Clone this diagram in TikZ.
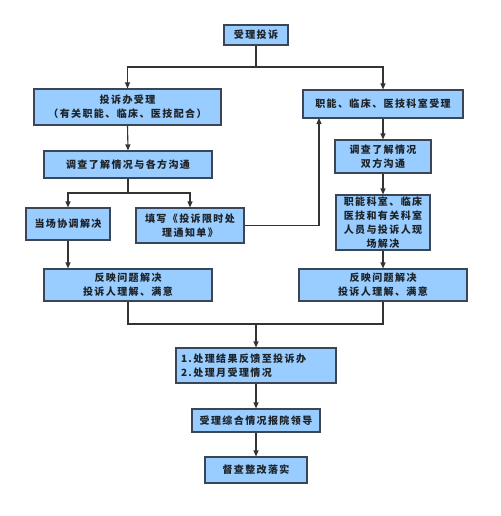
\documentclass[tikz,border=0pt]{standalone}
\usepackage{fontspec}
\setmainfont{Noto Sans CJK SC}[LetterSpace=14]
\usetikzlibrary{arrows.meta,calc}
\definecolor{boxfill}{HTML}{99CCFF}
\definecolor{boxline}{HTML}{3A4656}
\definecolor{linec}{HTML}{333333}
\definecolor{txt}{HTML}{1E2328}
\tikzset{
  box/.style={draw=boxline,fill=boxfill,line width=1.1pt,inner sep=1pt,align=center,
    font=\fontsize{10}{13.8}\selectfont\bfseries,text=txt},
  arr/.style={draw=linec,line width=1.1pt,-{Triangle[length=6pt,width=5pt]}},
  ln/.style={draw=linec,line width=1.1pt},
}
\begin{document}
\begin{tikzpicture}[x=1pt,y=-1pt]
\useasboundingbox (0,0) rectangle (500,516);
\node[box,minimum width=64pt,minimum height=20pt] (top) at (256,35) {受理投诉};
\node[box,minimum width=187pt,minimum height=36pt] (A1) at (127.5,107) {投诉办受理\\（有关职能、临床、医技配合）};
\node[box,minimum width=168pt,minimum height=27pt] (A2) at (128,164.5) {调查了解情况与各方沟通};
\node[box,minimum width=84pt,minimum height=32pt] (A3) at (68,224) {当场协调解决};
\node[box,minimum width=108pt,minimum height=35pt] (A4) at (190,225.5) {填写《投诉限时处\\理通知单》};
\node[box,minimum width=168pt,minimum height=32pt] (A5) at (128,285) {反映问题解决\\投诉人理解、满意};
\node[box,minimum width=160pt,minimum height=28pt] (B1) at (383,104) {职能、临床、医技科室受理};
\node[box,minimum width=96pt,minimum height=33pt] (B2) at (383,156.5) {调查了解情况\\双方沟通};
\node[box,minimum width=94pt,minimum height=55pt] (B3) at (383,222.5) {职能科室、临床\\医技和有关科室\\人员与投诉人现\\场解决};
\node[box,minimum width=168pt,minimum height=32pt] (B4) at (383,285) {反映问题解决\\投诉人理解、满意};
\node[box,minimum width=160pt,minimum height=35pt,align=left,text width=150pt] (C1) at (256,365.5) {1.处理结果反馈至投诉办\\2.处理月受理情况};
\node[box,minimum width=128pt,minimum height=23pt] (C2) at (256,420.5) {受理综合情况报院领导};
\node[box,minimum width=102pt,minimum height=26pt] (C3) at (256,470) {督查整改落实};
\coordinate (j1) at (256,67);
\coordinate (j2) at (128,193);
\coordinate (j3) at (256,324);
\coordinate (b1in) at (319,118);
\draw[ln] (top.south) -- (j1);
\draw[arr] (j1) -| (A1.north);
\draw[arr] (j1) -| (B1.north);
\draw[arr] (A1.south) -- (A2.north);
\draw[ln] (A2.south) -- (j2);
\draw[arr] (j2) -| (A3.north);
\draw[arr] (j2) -| (A4.north);
\draw[arr] (A3.south) -- (A3.south |- A5.north);
\draw[arr] (A4.east) -| (b1in);
\draw[arr] (B1.south) -- (B2.north);
\draw[arr] (B2.south) -- (B3.north);
\draw[arr] (B3.south) -- (B4.north);
\draw[ln] (A5.south) |- (j3);
\draw[ln] (B4.south) |- (j3);
\draw[arr] (j3) -- (C1.north);
\draw[arr] (C1.south) -- (C2.north);
\draw[arr] (C2.south) -- (C3.north);
\end{tikzpicture}
\end{document}
